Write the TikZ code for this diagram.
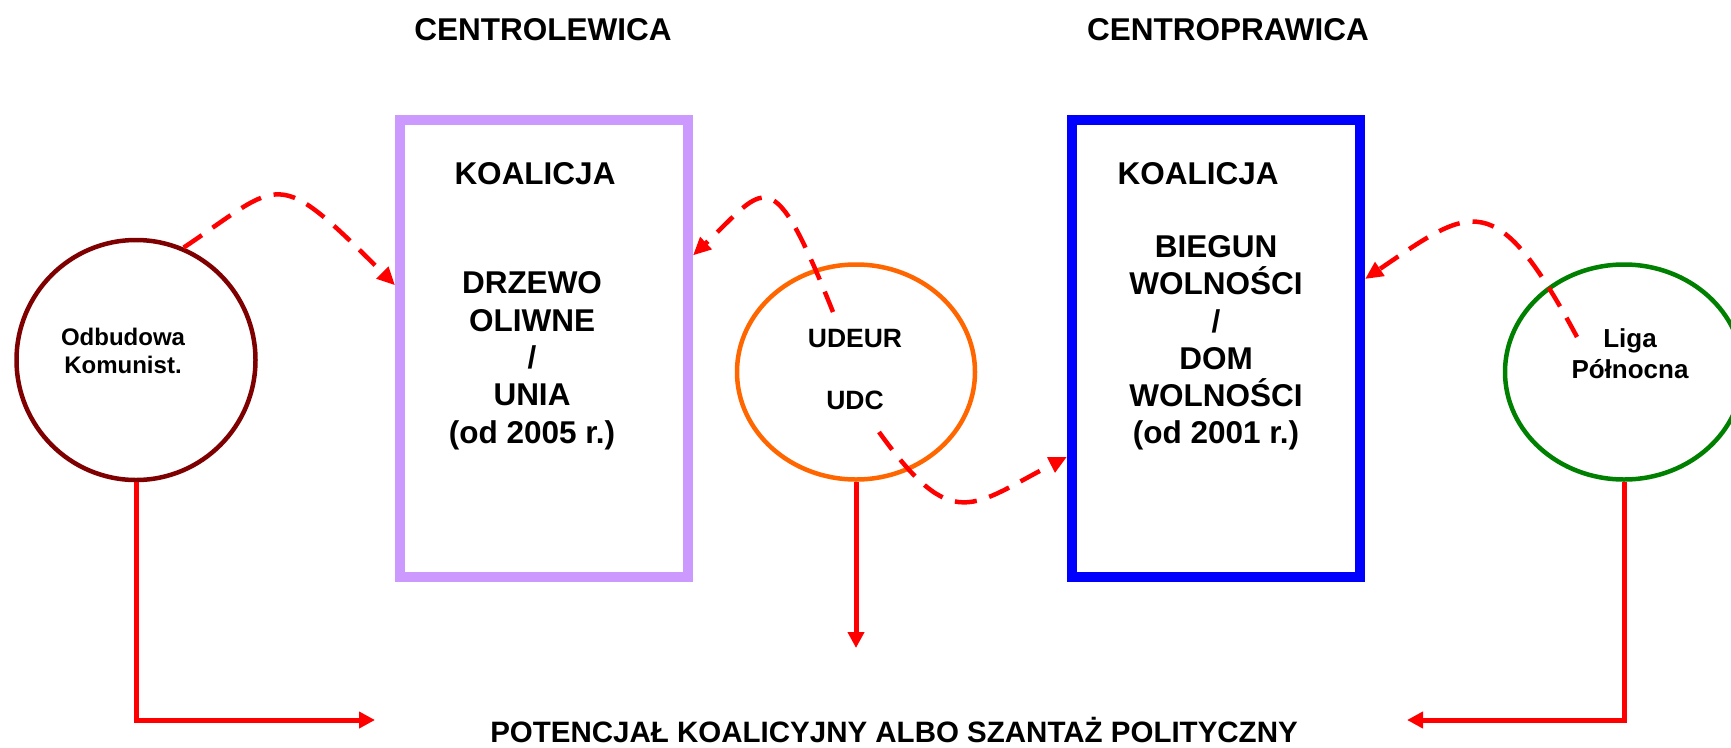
\documentclass[tikz,border=0pt]{standalone}
\usepackage{fontspec}
\setmainfont{Liberation Sans}
\usetikzlibrary{arrows.meta,shapes.geometric}

\definecolor{odbred}{HTML}{7F0000}
\definecolor{lila}{HTML}{CC99FF}
\definecolor{udeurorange}{HTML}{FF6600}
\definecolor{ligagreen}{HTML}{008000}

\begin{document}
\begin{tikzpicture}[x=1pt, y=-1pt,
    heading/.style={font=\fontsize{31.5}{37}\selectfont\bfseries},
    koalbox/.style={draw, line width=10pt, minimum width=288pt, minimum height=457pt, inner sep=0pt},
    boxtext/.style={align=center, font=\fontsize{31.5}{37.3}\selectfont\bfseries},
    party/.style={draw, line width=4.5pt, ellipse, minimum width=238pt, minimum height=215pt, inner sep=0pt},
    partytext/.style={align=center, font=\fontsize{24}{28.5}\selectfont\bfseries},
    swing/.style={red, line width=4.5pt, dash pattern=on 22pt off 13pt, -{Triangle[length=18pt, width=16pt]}},
    reach/.style={red, line width=5pt, -{Triangle[length=16pt, width=16pt]}}]
        \useasboundingbox (0,0) rectangle (1731,747);

        % Naglowki
        \node[heading] (lewica) at (543,29.5) {CENTROLEWICA};
        \node[heading] (prawica) at (1228,30) {CENTROPRAWICA};

        % Koalicja lewa
        \node[koalbox, draw=lila] (drzewo) at (544,348.5) {};
        \node[boxtext] (koal1) at (535,174) {KOALICJA};
        \node[boxtext] (drzewotxt) at (532,360.7) {DRZEWO\\OLIWNE\\/\\UNIA\\(od 2005 r.)};

        % Koalicja prawa
        \node[koalbox, draw=blue] (biegun) at (1216,348.5) {};
        \node[boxtext] (koal2) at (1198,174) {KOALICJA};
        \node[boxtext] (biegunxt) at (1216,343) {BIEGUN\\WOLNOŚCI\\/\\DOM\\WOLNOŚCI\\(od 2001 r.)};

        % Partie
        \node[party, draw=odbred, minimum width=239pt, minimum height=240pt] (odb) at (136,360) {};
        \node[partytext] (odbtxt) at (123,351) {Odbudowa\\Komunist.};
        \node[party, draw=udeurorange] (udeur) at (856,372) {};
        \node[partytext, font=\fontsize{26.5}{31}\selectfont\bfseries] (udeurtxt) at (855,369.6) {UDEUR\\[31pt]UDC};
        \node[party, draw=ligagreen] (liga) at (1624,372) {};
        \node[partytext, font=\fontsize{26}{31}\selectfont\bfseries] (ligatxt) at (1630,354) {Liga\\Północna};

        % Potencjal
        \node[font=\fontsize{29.5}{35}\selectfont\bfseries] (potencjal) at (894,729.8) {POTENCJAŁ KOALICYJNY ALBO SZANTAŻ POLITYCZNY};
        \coordinate (potL) at (375,720);
        \coordinate (potR) at (1407,720);
        \coordinate (potM) at (856,648);
        \draw[reach] (odb.south) |- (potL);
        \draw[reach] (liga.south) |- (potR);
        \draw[reach] (udeur.south) -- (potM);

        % Przeplywy
        \coordinate (udeurup) at (833,312);
        \coordinate (udcdown) at (879,432);
        \coordinate (ligaup) at (1577,337);
        \draw[swing] (odb.67.5) .. controls +(100,-67) and +(-121,-121) .. (drzewo.157);
        \draw[swing] (udeurup) .. controls +(-62,-155) and +(73,-69) .. (drzewo.32);
        \draw[swing] (udcdown) .. controls +(74,103) and +(-95,49) .. (biegun.216);
        \draw[swing] (ligaup) .. controls +(-82,-153) and +(106,-72) .. (biegun.25);
    \end{tikzpicture}
\end{document}
